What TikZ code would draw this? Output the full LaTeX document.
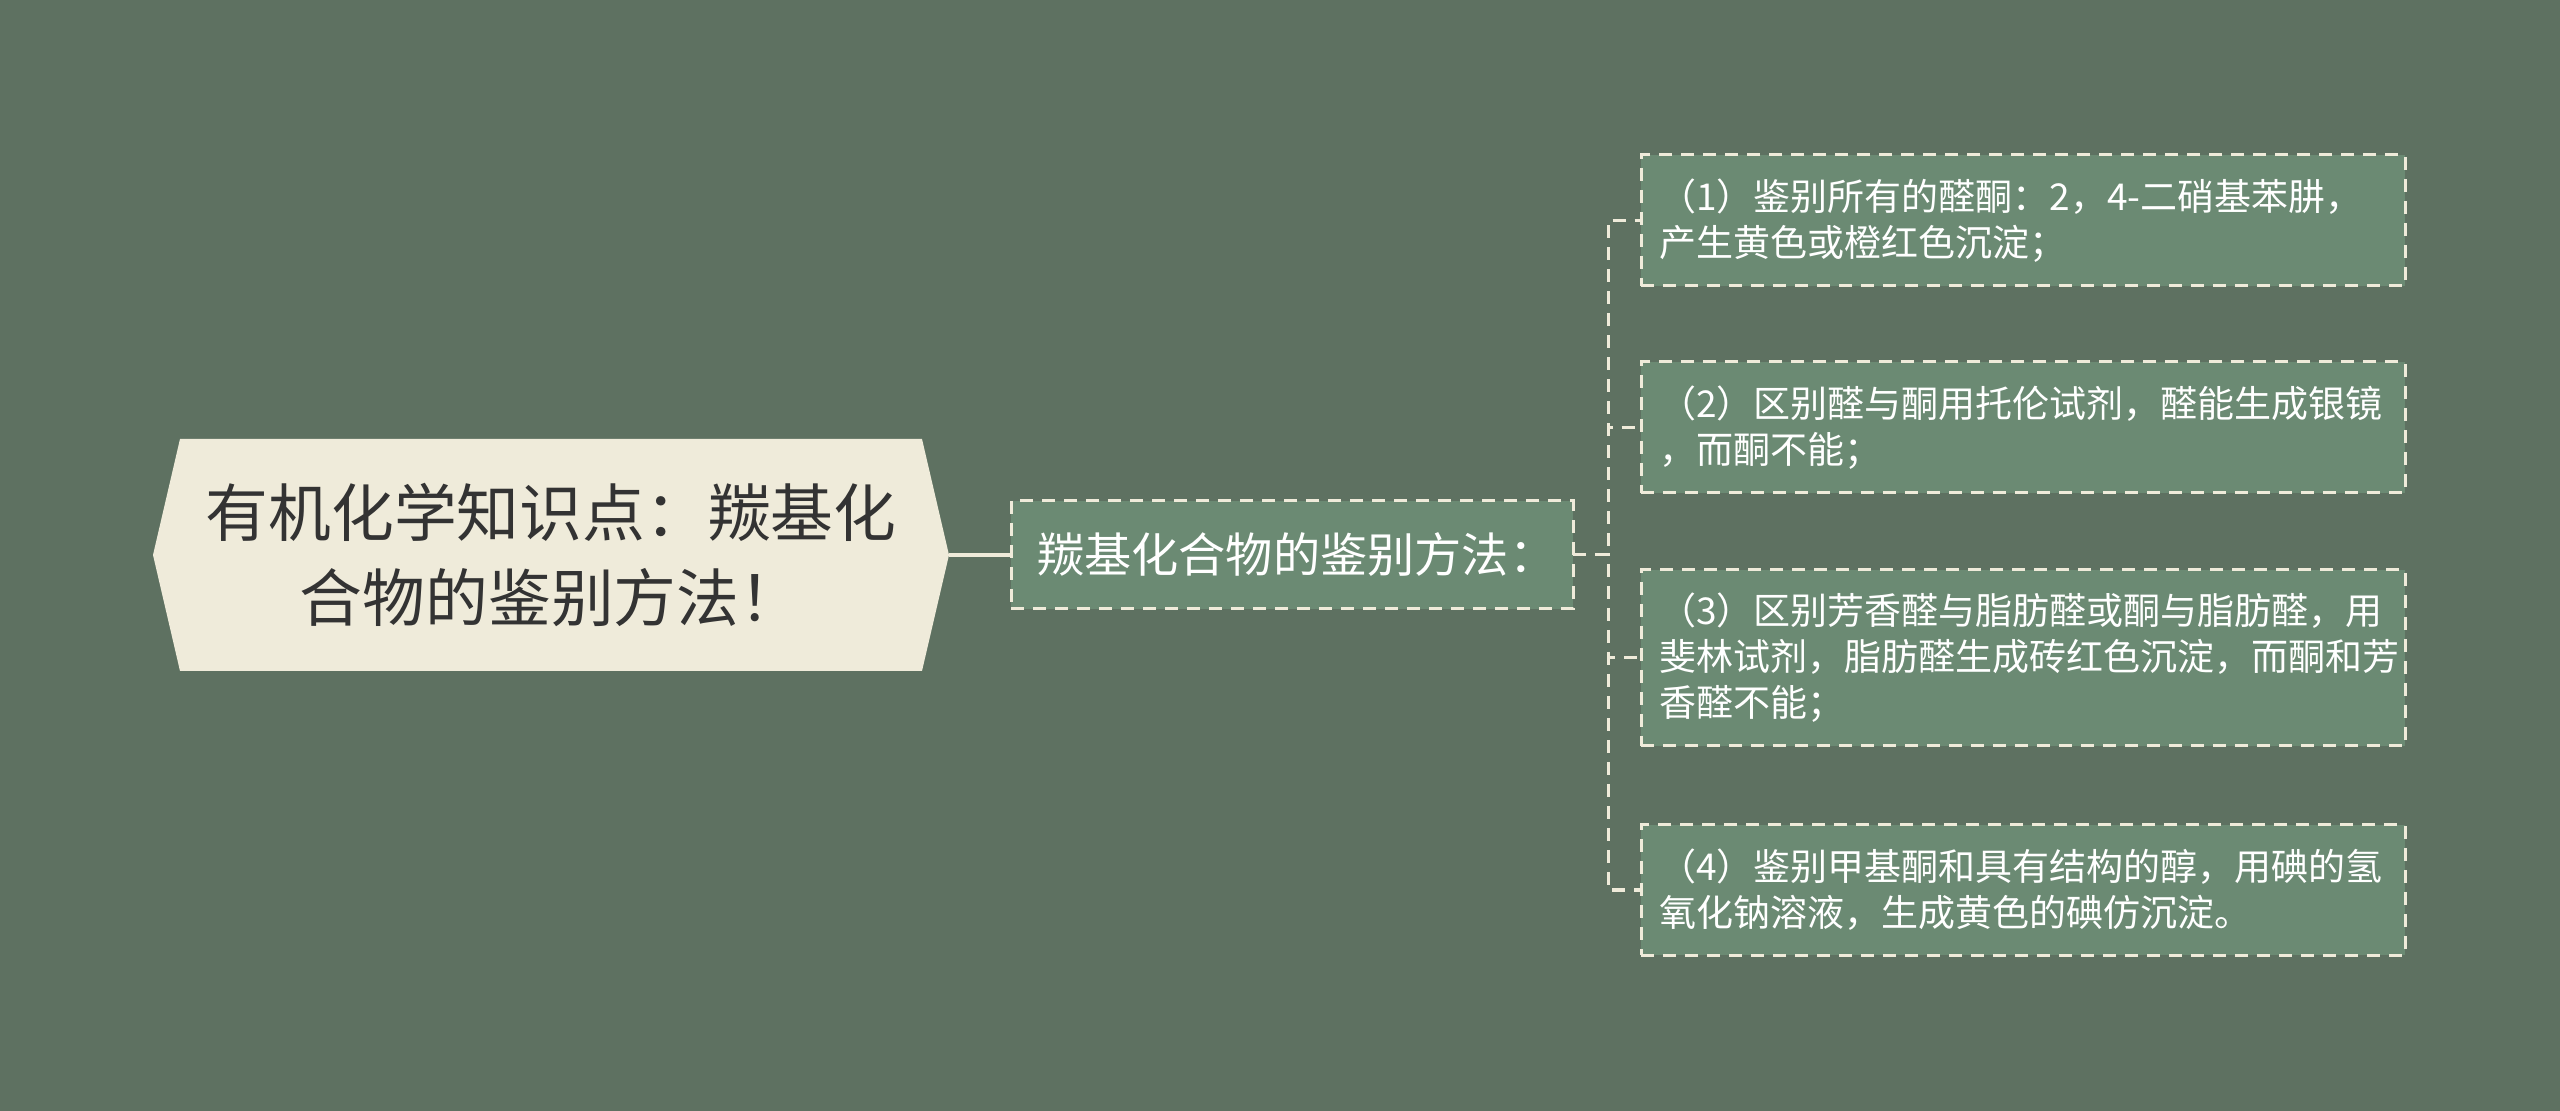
\documentclass[tikz,border=0pt]{standalone}
\usepackage{fontspec}
\setmainfont{Noto Sans CJK SC}
\usetikzlibrary{backgrounds,calc}
\definecolor{bg}{HTML}{5E7161}
\definecolor{boxfill}{HTML}{6B8A73}
\definecolor{cream}{HTML}{EFEBDA}
\definecolor{roottext}{HTML}{333333}
\begin{document}
\begin{tikzpicture}[x=0.5pt,y=-0.5pt,
  leaf/.style={draw=cream, line width=1.5pt, dash pattern=on 6.5pt off 4.5pt,
    fill=boxfill, text=white, font=\fontsize{18.5pt}{23pt}\selectfont,
    text width=364pt, align=left, inner xsep=9pt, inner ysep=0pt,
    minimum width=382pt, anchor=north west, outer sep=0pt},
  midbox/.style={draw=cream, line width=1.5pt, dash pattern=on 6.5pt off 4.5pt,
    fill=boxfill, text=white, font=\fontsize{23.6pt}{30pt}\selectfont,
    text width=255pt, align=left, inner xsep=13pt, inner ysep=0pt,
    minimum height=54pt, anchor=north west, outer sep=0pt},
  rootbox/.style={text=roottext, font=\fontsize{31.4pt}{42.5pt}\selectfont,
    align=center, minimum width=371pt, minimum height=116pt, inner sep=0pt,
    outer sep=0pt},
  solidconn/.style={draw=cream, line width=2pt},
  dconn/.style={draw=cream, line width=1.5pt, dash pattern=on 6.5pt off 4.5pt}
]
\useasboundingbox (0,0) rectangle (2560,1111);
\begin{scope}[on background layer]
  \fill[bg] (0,0) rectangle (2560,1111);
\end{scope}

\node[rootbox] (root) at (551,555) {有机化学知识点：羰基化\\合物的鉴别方法！};
\coordinate (rootR) at ($(root.east)+(27,0)$);
\coordinate (rootL) at ($(root.west)+(-27,0)$);
\begin{scope}[on background layer]
  \fill[cream] (root.north west) -- (root.north east) -- (rootR) -- (root.south east)
    -- (root.south west) -- (rootL) -- cycle;
\end{scope}

\node[midbox] (mid) at (1011,501) {羰基化合物的鉴别方法：};

\node[leaf, minimum height=65.5pt] (c1) at (1641,155)
  {（1）鉴别所有的醛酮：2，4-二硝基苯肼，\\产生黄色或橙红色沉淀；};
\node[leaf, minimum height=65.5pt] (c2) at (1641,362)
  {（2）区别醛与酮用托伦试剂，醛能生成银镜\\，而酮不能；};
\node[leaf, minimum height=88pt] (c3) at (1641,570)
  {（3）区别芳香醛与脂肪醛或酮与脂肪醛，用\\斐林试剂，脂肪醛生成砖红色沉淀，而酮和芳\\香醛不能；};
\node[leaf, minimum height=65pt] (c4) at (1641,825)
  {（4）鉴别甲基酮和具有结构的醇，用碘的氢\\氧化钠溶液，生成黄色的碘仿沉淀。};

\draw[solidconn] (rootR) -- (mid.west);
\foreach \c in {c1,c2,c3,c4}{
  \draw[dconn] (mid.east) -- ++(35,0) |- (\c.west);
}
\end{tikzpicture}
\end{document}
